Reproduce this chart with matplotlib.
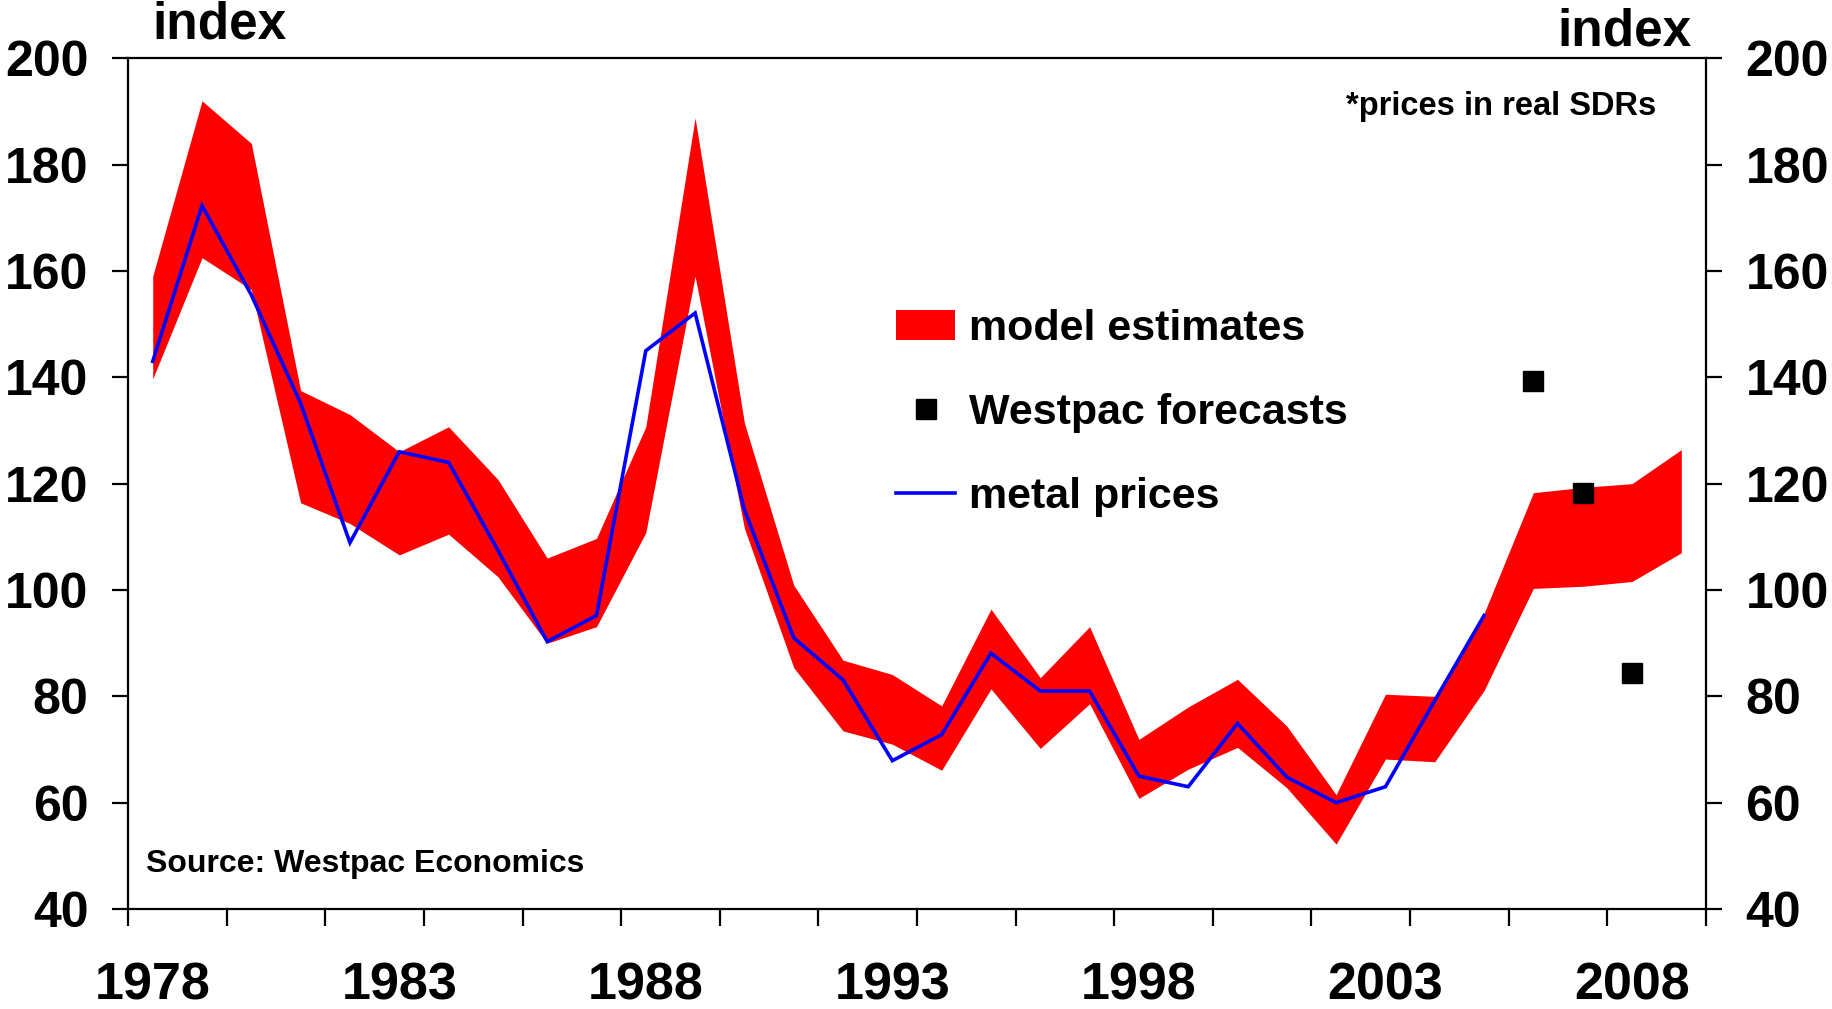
import matplotlib
matplotlib.use("Agg")
import matplotlib.pyplot as plt
from matplotlib.patches import Patch
from matplotlib.lines import Line2D
import numpy as np

years = list(range(1978, 2010))
upper = [159, 192, 184, 137.5, 133, 126, 130.7, 120.8, 106, 109.7, 130.7, 188.8,
         131.4, 100.9, 86.8, 84.1, 78.2, 96.4, 83.5, 93.1, 71.9, 78, 83.2, 74.4,
         61.5, 80.4, 80, 95.6, 118.3, 119.3, 120, 126.4]
lower = [139.7, 162.5, 156.5, 116.4, 112.5, 106.6, 110.5, 102.5, 90, 93.1, 110.8, 159,
         111.6, 85.4, 73.5, 71, 66.1, 81.4, 70.2, 78.6, 60.8, 66.3, 70.4, 62.8,
         52.2, 68.2, 67.7, 81.1, 100.3, 100.7, 101.6, 107]
metal_years = list(range(1978, 2006))
metal = [143, 172.3, 155.5, 135.1, 108.9, 126, 124, 107.5, 90.3, 95.2, 145, 152.1,
         115.1, 91, 83.1, 67.9, 72.8, 88.1, 81, 81, 65, 63, 74.9, 64.8, 60, 63, 79.2, 95.2]
fc_years = [2006, 2007, 2008]
forecasts = [139.4, 118.3, 84.3]
xlabels = [1978, 1983, 1988, 1993, 1998, 2003, 2008]
yticks = [40, 60, 80, 100, 120, 140, 160, 180, 200]

plt.rcParams['font.family'] = ['Liberation Sans', 'DejaVu Sans']
plt.rcParams['font.weight'] = 'bold'

fig = plt.figure(figsize=(18.32, 10.09), dpi=100)
ax = fig.add_axes([0.0699, 0.0991, 0.9312 - 0.0699, 0.9422 - 0.0991])

ax.fill_between(years, lower, upper, color='#FF0000', lw=0)
ax.plot(metal_years, metal, color='#0000FF', lw=2.6, solid_joinstyle='miter')
ax.plot(fc_years, forecasts, ls='none', marker='s', ms=15, color='black')

ax.set_xlim(1977.5, 2009.5)
ax.set_ylim(40, 200)
ax.set_yticks(yticks)
ax.set_yticklabels([str(v) for v in yticks])
ax.set_xticks(np.arange(1977.5, 2009.6, 2))
ax.set_xticklabels([])
ax.set_xticks(xlabels, minor=True)
ax.set_xticklabels([str(v) for v in xlabels], minor=True)

for s in ax.spines.values():
    s.set_linewidth(1.6)
ax.tick_params(axis='y', which='major', direction='out', length=11.5, width=1.6,
               pad=17, labelsize=36, left=True, right=True, labelleft=True, labelright=True)
ax.tick_params(axis='x', which='major', direction='out', length=12, width=1.6)
ax.tick_params(axis='x', which='minor', length=0, pad=38, labelsize=37.5)

fig.text(0.083, 0.962, 'index', fontsize=37, fontweight='bold', ha='left', va='baseline')
fig.text(0.9236, 0.9554, 'index', fontsize=37, fontweight='bold', ha='right', va='baseline')
fig.text(0.7347, 0.886, '*prices in real SDRs', fontsize=23.5, fontweight='bold',
         ha='left', va='baseline')
fig.text(0.0797, 0.1358, 'Source: Westpac Economics', fontsize=23, fontweight='bold',
         ha='left', va='baseline')

handles = [Patch(facecolor='#FF0000', edgecolor='none', label='model estimates'),
           Line2D([], [], ls='none', marker='s', ms=15, color='black', label='Westpac forecasts'),
           Line2D([], [], color='#0000FF', lw=2.6, label='metal prices')]
leg = fig.legend(handles=handles, loc='upper left', bbox_to_anchor=(0.468, 0.7324),
                 frameon=False, prop={'size': 31, 'weight': 'bold'},
                 handlelength=1.37, handletextpad=0.33, labelspacing=1.02, borderpad=0.4)

fig.savefig('out.png', dpi=100)
